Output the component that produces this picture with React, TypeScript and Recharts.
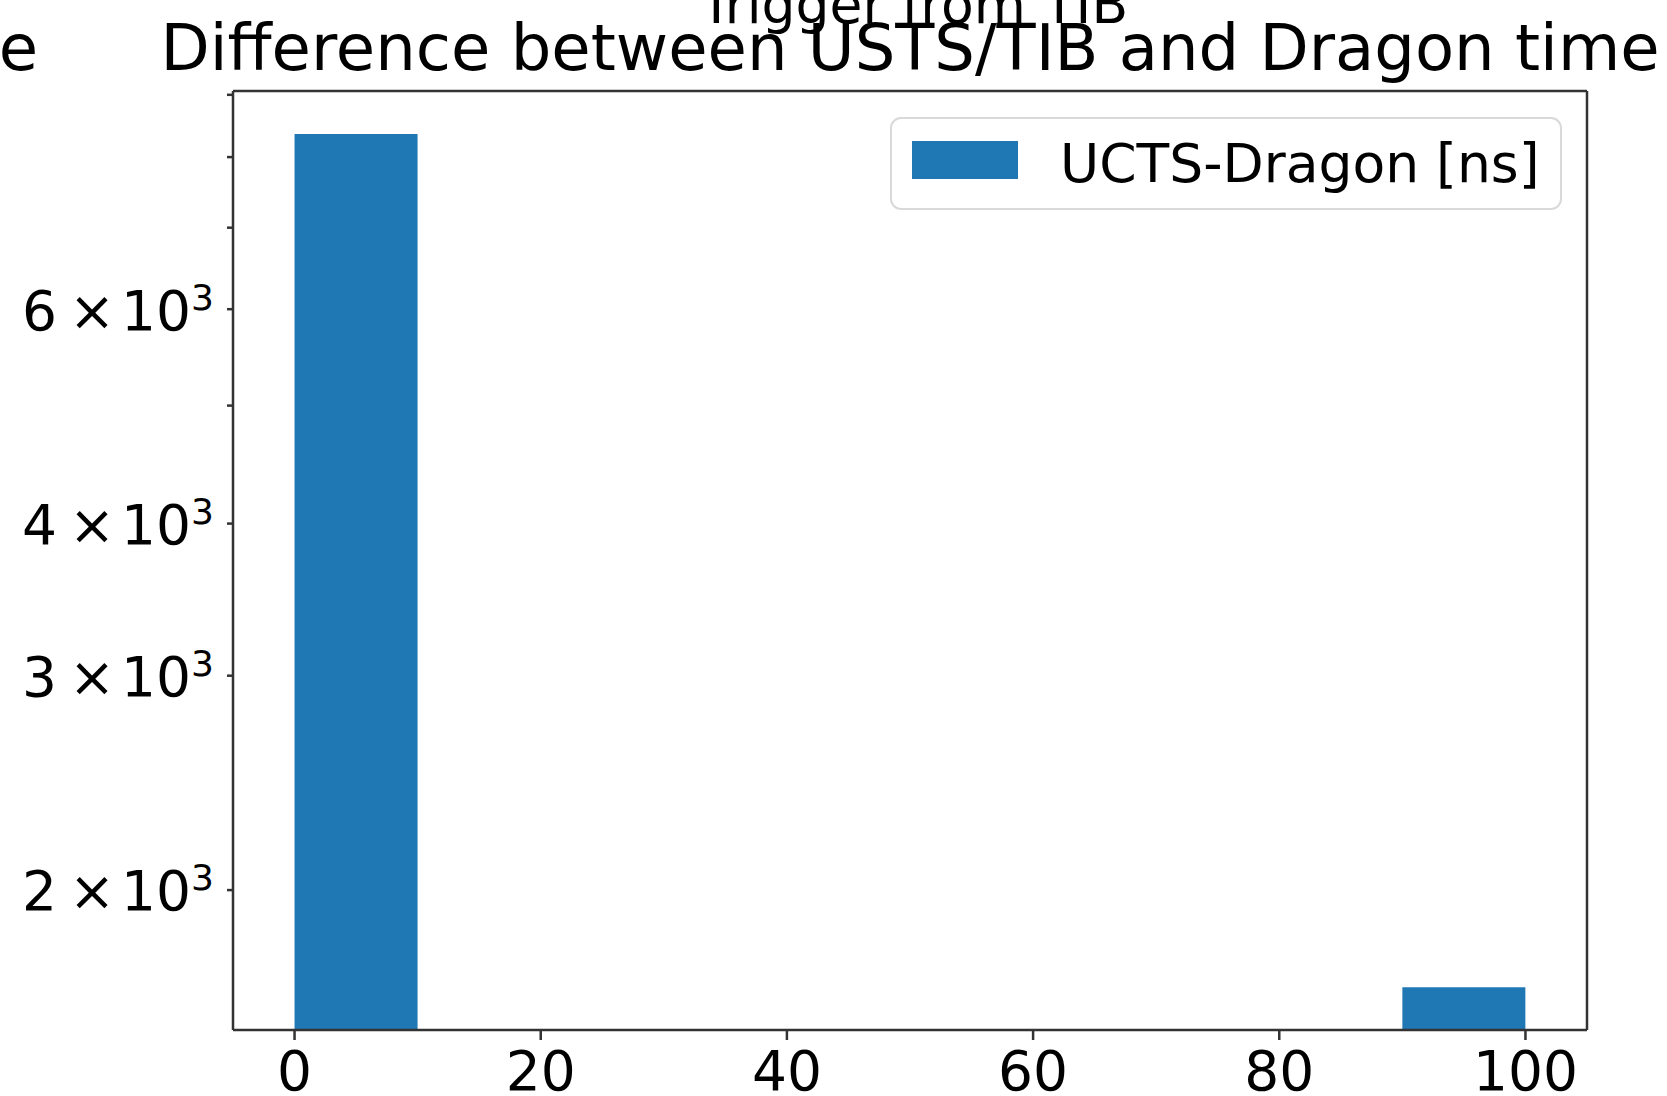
import React from 'react';
import { ComposedChart, Bar, XAxis, YAxis, Legend } from 'recharts';

// ---- data ----
const binCenters = [5, 15, 25, 35, 45, 55, 65, 75, 85, 95];
const binCounts = [8358, 0, 0, 0, 0, 0, 0, 0, 0, 1664];
const xTicks = [0, 20, 40, 60, 80, 100];
const xDomain: [number, number] = [-5, 105];
const yDomain: [number, number] = [1535, 9065];
const yTicks = [2000, 3000, 4000, 5000, 6000, 7000, 8000, 9000];
const yLabelValues = [2000, 3000, 4000, 6000];
const yLabelMantissas = ['2', '3', '4', '6'];
const yLabelExponent = '3';
const seriesName = 'UCTS-Dragon [ns]';
const suptitle = 'Trigger from TIB';
const title = 'Difference between USTS/TIB and Dragon time';
const leftTitleTail = 'e';

const data = binCenters.map((x, i) => ({ x, count: binCounts[i] > 0 ? binCounts[i] : null }));

const FONT = '"DejaVu Sans", sans-serif';
const BAR_COLOR = '#1f77b4';
const SPINE = '#333333';

const YTick = (props: any) => {
  const { x, y, payload } = props;
  const idx = yLabelValues.indexOf(payload.value);
  if (idx < 0) return <g />;
  return (
    <text x={x} y={y} dy="0.37em" textAnchor="end" fontFamily={FONT} fontSize={55} fill="#000">
      <tspan>{yLabelMantissas[idx]}</tspan>
      <tspan dx={12}>×</tspan>
      <tspan dx={6}>10</tspan>
      <tspan fontSize={36} dy={-20}>{yLabelExponent}</tspan>
    </text>
  );
};

const LegendBox = (props: any) => {
  const item = (props.payload && props.payload[0]) || { value: seriesName, color: BAR_COLOR };
  return (
    <svg width={672} height={93} style={{ display: 'block' }}>
      <rect x={1} y={1} width={670} height={91} rx={10} ry={10} fill="#fff" stroke="#d9d9d9" strokeWidth={2} />
      <rect x={22} y={24} width={106} height={38} fill={item.color || BAR_COLOR} />
      <text x={170} y={65} fontFamily={FONT} fontSize={53.5} fill="#000">{item.value}</text>
    </svg>
  );
};

export default function App() {
  return (
    <div style={{ position: 'absolute', left: 0, top: 0, width: 1667, height: 1096, background: '#fff' }}>
      <ComposedChart
        width={1667}
        height={1096}
        data={data}
        margin={{ top: 90, right: 79, bottom: 0, left: 0 }}
        barCategoryGap={0}
        barGap={0}
      >
        <XAxis
          dataKey="x"
          type="number"
          domain={xDomain}
          allowDataOverflow
          ticks={xTicks}
          tickCount={11}
          interval={0}
          height={66}
          tickSize={10}
          tickMargin={11}
          axisLine={{ stroke: SPINE, strokeWidth: 2.5 }}
          tickLine={{ stroke: SPINE, strokeWidth: 2.5 }}
          tick={{ fontFamily: FONT, fontSize: 55, fill: '#000' }}
        />
        <XAxis
          xAxisId="top"
          orientation="top"
          dataKey="x"
          type="number"
          domain={xDomain}
          allowDataOverflow
          height={1}
          tick={false}
          tickLine={false}
          axisLine={{ stroke: SPINE, strokeWidth: 2.5 }}
        />
        <YAxis
          type="number"
          scale="log"
          domain={yDomain}
          allowDataOverflow
          ticks={yTicks}
          interval={0}
          width={233}
          tickSize={6}
          tickMargin={13}
          axisLine={{ stroke: SPINE, strokeWidth: 2.5 }}
          tickLine={{ stroke: SPINE, strokeWidth: 2.5 }}
          tick={<YTick />}
        />
        <YAxis
          yAxisId="right"
          orientation="right"
          type="number"
          domain={[0, 1]}
          width={1}
          tick={false}
          tickLine={false}
          axisLine={{ stroke: SPINE, strokeWidth: 2.5 }}
        />
        <Legend
          layout="horizontal"
          verticalAlign="middle"
          align="center"
          content={<LegendBox />}
          wrapperStyle={{ position: 'absolute', left: 890, top: 117, width: 672, height: 93 }}
        />
        <Bar dataKey="count" name={seriesName} fill={BAR_COLOR} isAnimationActive={false} />
      </ComposedChart>
      <svg
        width={1667}
        height={1096}
        style={{ position: 'absolute', left: 0, top: 0, pointerEvents: 'none' }}
      >
        <text x={914} y={23} textAnchor="middle" fontFamily={FONT} fontSize={53.5} fill="#000">{suptitle}</text>
        <text x={910} y={69.5} textAnchor="middle" fontFamily={FONT} fontSize={64} fill="#000">{title}</text>
        <text x={38} y={69.5} textAnchor="end" fontFamily={FONT} fontSize={64} fill="#000">{leftTitleTail}</text>
      </svg>
    </div>
  );
}
